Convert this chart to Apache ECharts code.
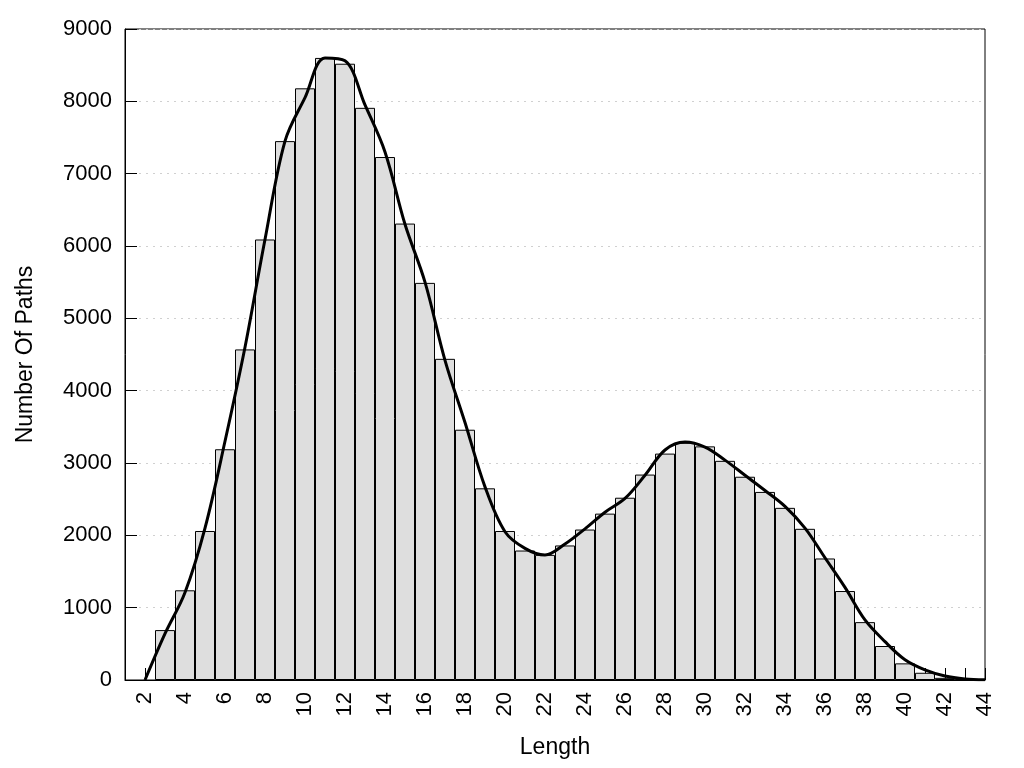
<!DOCTYPE html>
<html>
<head>
<meta charset="utf-8">
<script src="https://cdn.jsdelivr.net/npm/echarts@6/dist/echarts.min.js"></script>
<style>html,body{margin:0;padding:0;background:#fff;}#chart{width:1024px;height:768px;}</style>
</head>
<body>
<div id="chart"></div>
<script>
// Histogram bars: path length -> number of paths
const barLengths = [3,4,5,6,7,8,9,10,11,12,13,14,15,16,17,18,19,20,21,22,23,24,25,26,27,28,29,30,31,32,33,34,35,36,37,38,39,40,41,42,43];
const barCounts  = [690,1240,2060,3190,4570,6090,7450,8180,8600,8520,7910,7230,6310,5490,4440,3460,2650,2060,1790,1730,1860,2080,2300,2520,2840,3130,3280,3230,3030,2810,2600,2380,2090,1680,1230,800,470,230,100,30,10];
// Smoothed density curve
const curveLengths = [2,3,4,5,6,7,8,9,10,11,12,13,14,15,16,17,18,19,20,21,22,23,24,25,26,27,28,29,30,31,32,33,34,35,36,37,38,39,40,41,42,43,44];
const curveCounts  = [0,640,1210,2100,3300,4600,6090,7450,8050,8600,8560,7950,7300,6300,5500,4420,3560,2670,2050,1820,1728,1880,2090,2320,2510,2830,3180,3290,3220,3040,2830,2620,2400,2100,1690,1280,830,530,280,140,55,15,3];
// Axis ticks
const xMin = 1, xMax = 44, xStep = 1;
const yMin = 0, yMax = 9000, yStep = 1000;

const chart = echarts.init(document.getElementById('chart'), null, {renderer: 'canvas'});
const font = 'Liberation Sans, Arial, sans-serif';
chart.setOption({
  animation: false,
  backgroundColor: '#fff',
  grid: {left: 125, right: 39, top: 29, bottom: 88, show: true, borderColor: '#000', borderWidth: 1, backgroundColor: 'transparent'},
  xAxis: {
    type: 'value', min: xMin, max: xMax, interval: xStep,
    name: 'Length', nameLocation: 'middle', nameGap: 56,
    nameTextStyle: {fontFamily: font, fontSize: 23, color: '#000'},
    axisLine: {show: true, lineStyle: {color: '#000', width: 1}},
    axisTick: {show: true, inside: true, length: 12, lineStyle: {color: '#000', width: 1}},
    axisLabel: {rotate: 90, margin: 12, fontFamily: font, fontSize: 22, color: '#000',
      showMinLabel: true, showMaxLabel: true,
      formatter: v => (v % 2 === 0 ? String(v) : '')},
    splitLine: {show: false}
  },
  yAxis: {
    type: 'value', min: yMin, max: yMax, interval: yStep,
    name: 'Number Of Paths', nameLocation: 'middle', nameGap: 88, nameRotate: 90,
    nameTextStyle: {fontFamily: font, fontSize: 23, color: '#000'},
    axisLine: {show: true, lineStyle: {color: '#000', width: 1}},
    axisTick: {show: true, inside: true, length: 12, lineStyle: {color: '#000', width: 1}},
    axisLabel: {margin: 13, fontFamily: font, fontSize: 22, color: '#000', formatter: v => String(v)},
    splitLine: {show: true, lineStyle: {color: '#d0d0d0', type: [2, 5], width: 1}}
  },
  series: [
    {
      type: 'bar', barWidth: 20, z: 2,
      data: barLengths.map((x, i) => [x, barCounts[i]]),
      itemStyle: {color: '#dedede', borderColor: '#000', borderWidth: 1}
    },
    {
      type: 'line', smooth: 0.35, showSymbol: false, z: 5,
      data: curveLengths.map((x, i) => [x, curveCounts[i]]),
      lineStyle: {color: '#000', width: 3}
    }
  ]
});
</script>
</body>
</html>
